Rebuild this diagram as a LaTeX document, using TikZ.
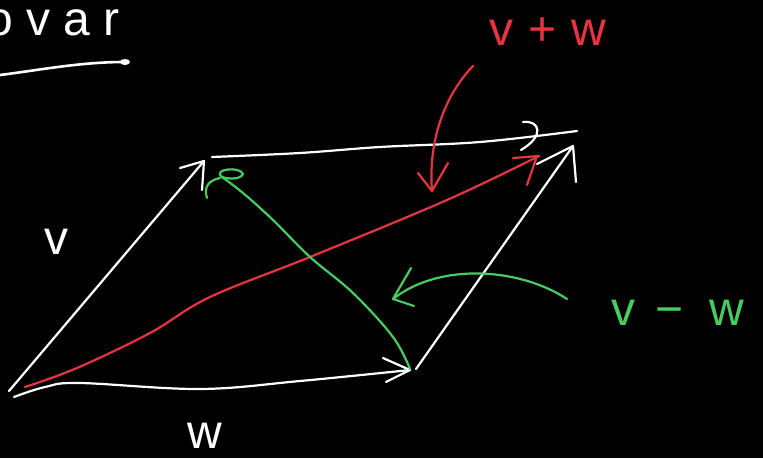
\documentclass[tikz,border=0pt]{standalone}
\usepackage{fontspec}
\setmainfont{Liberation Sans}
\definecolor{inkred}{RGB}{232,52,64}
\definecolor{inkgreen}{RGB}{72,204,96}
\begin{document}
\begin{tikzpicture}[x=1pt,y=-1pt,
  pen/.style={line width=2.2pt,line cap=round,line join=round},
  wpen/.style={pen,white},
  rpen/.style={pen,inkred},
  gpen/.style={pen,inkgreen},
  lbl/.style={font=\fontsize{48}{48}\selectfont,inner sep=0pt}]
\fill[black] (0,0) rectangle (763,458);
\useasboundingbox (0,0) rectangle (763,458);
% corner points
\coordinate (O) at (9,391);
\coordinate (Ow) at (14,397);
\coordinate (V) at (204,161);
\coordinate (W) at (410,370);
\coordinate (Wc) at (416,369);
\coordinate (S) at (573,146);
\coordinate (Tl) at (212,157);
\coordinate (Tr) at (577,131);
\coordinate (Ro) at (25,387);
\coordinate (Rt) at (539,156);
\coordinate (Gs) at (410,369);
\coordinate (Gt) at (222,177);
% heading scribble
\node[lbl,white,anchor=base west] (head) at (-14,35) {\addfontfeatures{LetterSpace=28}ovar};
\coordinate (ul0) at (0,75);
\coordinate (ul1) at (125,62);
\draw[wpen,line width=2.6pt] (ul0) .. controls (40,70) and (80,62) .. (ul1);
\fill[white] (ul1) ellipse (5pt and 3pt);
% v
\draw[wpen] (O) -- (V);
\draw[wpen] (180,168) -- (V) -- (202,190);
\node[lbl,white,anchor=base] (vlab) at (56,254) {v};
% w
\draw[wpen] plot[smooth,tension=0.6] coordinates {(Ow) (45,387) (80,383) (200,389) (300,381) (W)};
\draw[wpen] (383,358) -- (W) -- (386,382);
\node[lbl,white,anchor=base] (wlab) at (205,448) {w};
% top edge
\draw[wpen] plot[smooth,tension=0.6] coordinates {(Tl) (300,153) (380,147) (480,142) (Tr)};
\draw[wpen] (523,122) .. controls (540,120) and (545,136) .. (521,150);
% right edge
\draw[wpen] (Wc) -- (S);
\draw[wpen] (537,164) -- (S) -- (576,182);
% v + w diagonal
\draw[rpen] plot[smooth,tension=0.6] coordinates {(Ro) (77,368) (150,333) (210,297) (310,257) (447,200) (Rt)};
\draw[rpen] (513,158) -- (Rt);
\draw[rpen] (527,185) -- (536,159);
\node[lbl,inkred,anchor=base west] (sumlab) at (489,45) {v\hspace{2pt} + \hspace{2pt}w};
\coordinate (ra0) at (473,66);
\coordinate (ra1) at (432,191);
\draw[rpen] (ra0) .. controls (445,95) and (428,140) .. (ra1);
\draw[rpen] (418,173) -- (ra1) -- (448,163);
% v - w diagonal
\draw[gpen] plot[smooth,tension=0.6] coordinates {(Gs) (393,337) (353,293) (310,257) (273,220) (243,193) (Gt)};
\draw[gpen] (Gt) .. controls (212,169) and (240,166) .. (243,174) .. controls (240,180) and (228,179) .. (Gt);
\draw[gpen] (207,198) .. controls (203,186) and (210,180) .. (220,178);
\node[lbl,inkgreen,anchor=base west] (diflab) at (611,325) {v\hspace{20pt}−\hspace{26pt}w};
\coordinate (ga0) at (567,299);
\coordinate (ga1) at (393,299);
\draw[gpen] (ga0) .. controls (520,268) and (440,262) .. (ga1);
\draw[gpen] (411,268) -- (ga1) -- (414,306);
\end{tikzpicture}
\end{document}
